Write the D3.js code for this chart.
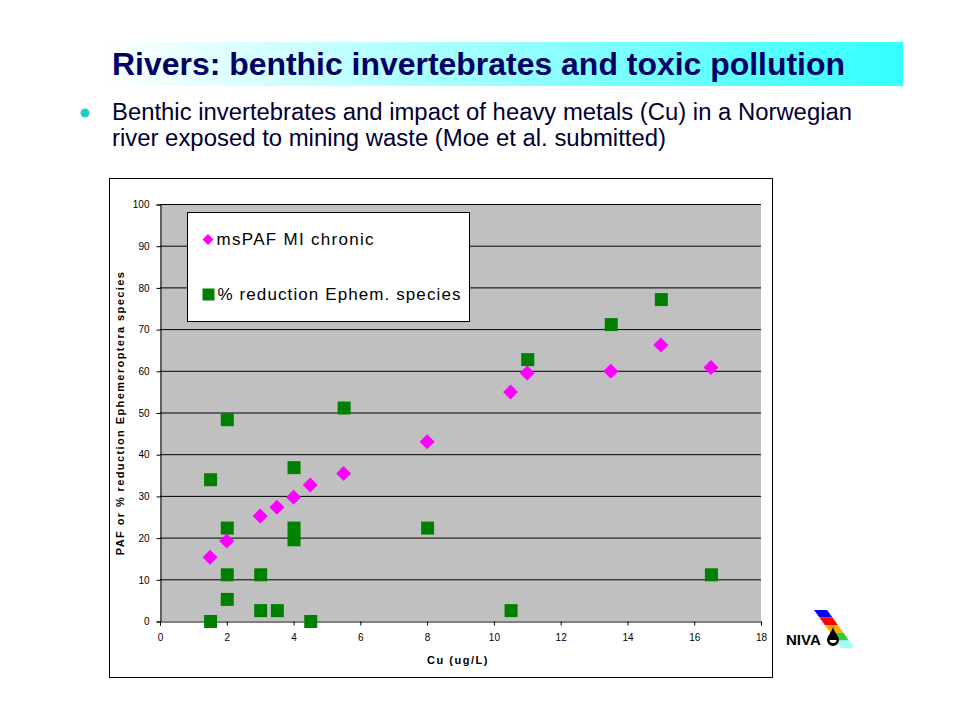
<!DOCTYPE html>
<html>
<head>
<meta charset="utf-8">
<script src="https://cdn.jsdelivr.net/npm/d3@7"></script>
<style>
  body { margin: 0; background: #fff; }
  svg { display: block; font-family: Arial, "Liberation Sans", sans-serif; }
</style>
</head>
<body>
<svg width="960" height="720"></svg>
<script>
// data
var pafX = [1.5, 2, 3, 3.5, 4, 4.5, 5.5, 8, 10.5, 11, 13.5, 15, 16.5];
var pafY = [15.3, 19.2, 25.2, 27.3, 29.7, 32.6, 35.4, 43.0, 54.9, 59.5, 59.9, 66.2, 60.8];

var redX = [1.5, 1.5, 2, 2, 2, 2, 3, 3, 3.5, 4, 4, 4, 4.5, 5.5, 8, 10.5, 11, 13.5, 15, 16.5];
var redY = [0, 34.0, 48.4, 22.4, 11.2, 5.3, 11.2, 2.6, 2.6, 36.9, 22.4, 19.6, 0, 51.2, 22.4, 2.6, 62.8, 71.2, 77.2, 11.2];

var xTicks = [0, 2, 4, 6, 8, 10, 12, 14, 16, 18];
var yTicks = [0, 10, 20, 30, 40, 50, 60, 70, 80, 90, 100];

var seriesNames = ["msPAF MI chronic", "% reduction Ephem. species"];

var svg = d3.select("svg");

// title banner
var grad = svg.append("defs").append("linearGradient")
    .attr("id", "banner")
    .attr("x1", "0%").attr("x2", "100%");
grad.append("stop").attr("offset", "0%").attr("stop-color", "#ffffff");
grad.append("stop").attr("offset", "100%").attr("stop-color", "#33ffff");

svg.append("rect")
    .attr("x", 100).attr("y", 42)
    .attr("width", 803).attr("height", 44)
    .attr("fill", "url(#banner)");

svg.append("text")
    .attr("x", 112).attr("y", 75)
    .attr("fill", "#000066")
    .attr("font-size", 32)
    .attr("font-weight", "bold")
    .attr("textLength", 733)
    .attr("lengthAdjust", "spacingAndGlyphs")
    .text("Rivers: benthic invertebrates and toxic pollution");

// bullet text
svg.append("circle")
    .attr("cx", 85).attr("cy", 113).attr("r", 4.5)
    .attr("fill", "#22cccc");

svg.append("text")
    .attr("x", 112).attr("y", 120)
    .attr("fill", "#000033")
    .attr("font-size", 23)
    .attr("textLength", 740)
    .attr("lengthAdjust", "spacingAndGlyphs")
    .text("Benthic invertebrates and impact of heavy metals (Cu) in a Norwegian");
svg.append("text")
    .attr("x", 112).attr("y", 146)
    .attr("fill", "#000033")
    .attr("font-size", 23)
    .attr("textLength", 554)
    .attr("lengthAdjust", "spacingAndGlyphs")
    .text("river exposed to mining waste (Moe et al. submitted)");

// chart frame
svg.append("rect")
    .attr("x", 109.5).attr("y", 178.5)
    .attr("width", 663).attr("height", 499)
    .attr("fill", "#fff")
    .attr("stroke", "#000")
    .attr("stroke-width", 1);

var margin = {left: 160, top: 204, right: 761, bottom: 621};

var x = d3.scaleLinear().domain([0, 18]).range([margin.left, margin.right]);
var y = d3.scaleLinear().domain([0, 100]).range([margin.bottom, margin.top]);

svg.append("rect")
    .attr("x", x(0)).attr("y", y(100))
    .attr("width", x(18) - x(0)).attr("height", y(0) - y(100))
    .attr("fill", "#c0c0c0");

// gridlines
svg.append("g")
    .selectAll("line")
    .data(yTicks.slice(1))
  .enter().append("line")
    .attr("x1", x(0)).attr("x2", x(18))
    .attr("y1", function(d) { return y(d) + 0.5; })
    .attr("y2", function(d) { return y(d) + 0.5; })
    .attr("stroke", "#000")
    .attr("stroke-width", 1);

var yAxis = svg.append("g")
    .attr("transform", "translate(" + (x(0) + 0.5) + ",0.5)")
    .call(d3.axisLeft(y).tickValues(yTicks).tickSize(4).tickPadding(7));

var xAxis = svg.append("g")
    .attr("transform", "translate(0," + (y(0) + 0.5) + ")")
    .call(d3.axisBottom(x).tickValues(xTicks).tickSize(4).tickPadding(8));

[yAxis, xAxis].forEach(function(a) {
  a.select(".domain").attr("stroke", "#000");
  a.selectAll(".tick line").attr("stroke", "#000");
  a.selectAll(".tick text")
      .attr("fill", "#000")
      .attr("font-size", 10)
      .attr("font-family", "Arial, 'Liberation Sans', sans-serif");
});

// axis titles
svg.append("text")
    .attr("transform", "translate(124,413) rotate(-90)")
    .attr("text-anchor", "middle")
    .attr("font-size", 11)
    .attr("font-weight", "bold")
    .attr("letter-spacing", 1.4)
    .text("PAF or % reduction Ephemeroptera species");

svg.append("text")
    .attr("x", 458).attr("y", 664)
    .attr("text-anchor", "middle")
    .attr("font-size", 11)
    .attr("font-weight", "bold")
    .attr("letter-spacing", 1.5)
    .text("Cu (ug/L)");

var redData = redX.map(function(d, i) { return [d, redY[i]]; });
var pafData = pafX.map(function(d, i) { return [d, pafY[i]]; });

var sq = 13, dm = 7.5;

svg.append("g")
    .selectAll("rect")
    .data(redData)
  .enter().append("rect")
    .attr("x", function(d) { return x(d[0]) - sq / 2 + 0.5; })
    .attr("y", function(d) { return y(d[1]) - sq / 2 + 0.5; })
    .attr("width", sq).attr("height", sq)
    .attr("fill", "#008000");

svg.append("g")
    .selectAll("path")
    .data(pafData)
  .enter().append("path")
    .attr("transform", function(d) { return "translate(" + x(d[0]) + "," + y(d[1]) + ")"; })
    .attr("d", "M0," + (-dm) + "L" + dm + ",0L0," + dm + "L" + (-dm) + ",0Z")
    .attr("fill", "#ff00ff");

// legend
var leg = svg.append("g").attr("transform", "translate(187.5,212.5)");
leg.append("rect")
    .attr("width", 282).attr("height", 109)
    .attr("fill", "#fff").attr("stroke", "#000");

leg.append("path")
    .attr("transform", "translate(20.5,27)")
    .attr("d", "M0,-5.5L5.5,0L0,5.5L-5.5,0Z")
    .attr("fill", "#ff00ff");
leg.append("rect")
    .attr("x", 15).attr("y", 76)
    .attr("width", 12).attr("height", 12)
    .attr("fill", "#008000");

leg.selectAll("text.lbl")
    .data(seriesNames)
  .enter().append("text")
    .attr("class", "lbl")
    .attr("x", function(d, i) { return i === 0 ? 29 : 30; })
    .attr("y", function(d, i) { return i === 0 ? 32 : 87; })
    .attr("font-size", 17)
    .attr("letter-spacing", function(d, i) { return i === 0 ? 1.3 : 1.1; })
    .attr("fill", "#000")
    .text(function(d) { return d; });

// NIVA logo
var logo = svg.append("g");
var stripes = ["#0000ff", "#ff0000", "#ffaa00", "#33cc33", "#99ffff"];
stripes.forEach(function(c, i) {
  var t = 610 + i * 7.6, b = t + 7.6;
  var s = 0.72;
  logo.append("path")
    .attr("d", "M" + (814 + (t - 610) * s) + "," + t +
               "L" + (827 + (t - 610) * s) + "," + t +
               "L" + (827 + (b - 610) * s) + "," + b +
               "L" + (814 + (b - 610) * s) + "," + b + "Z")
    .attr("fill", c);
});
logo.append("path")
    .attr("d", "M833,626C833,631 827,636 827,640A6,6 0 0 0 839,640C839,636 833,631 833,626Z")
    .attr("fill", "#000");
logo.append("path")
    .attr("d", "M829.5,640A3.5,3 0 0 0 836.5,640Z")
    .attr("fill", "#fff");
logo.append("text")
    .attr("x", 786).attr("y", 645)
    .attr("font-size", 15)
    .attr("font-weight", "bold")
    .attr("fill", "#000")
    .text("NIVA");
</script>
</body>
</html>
